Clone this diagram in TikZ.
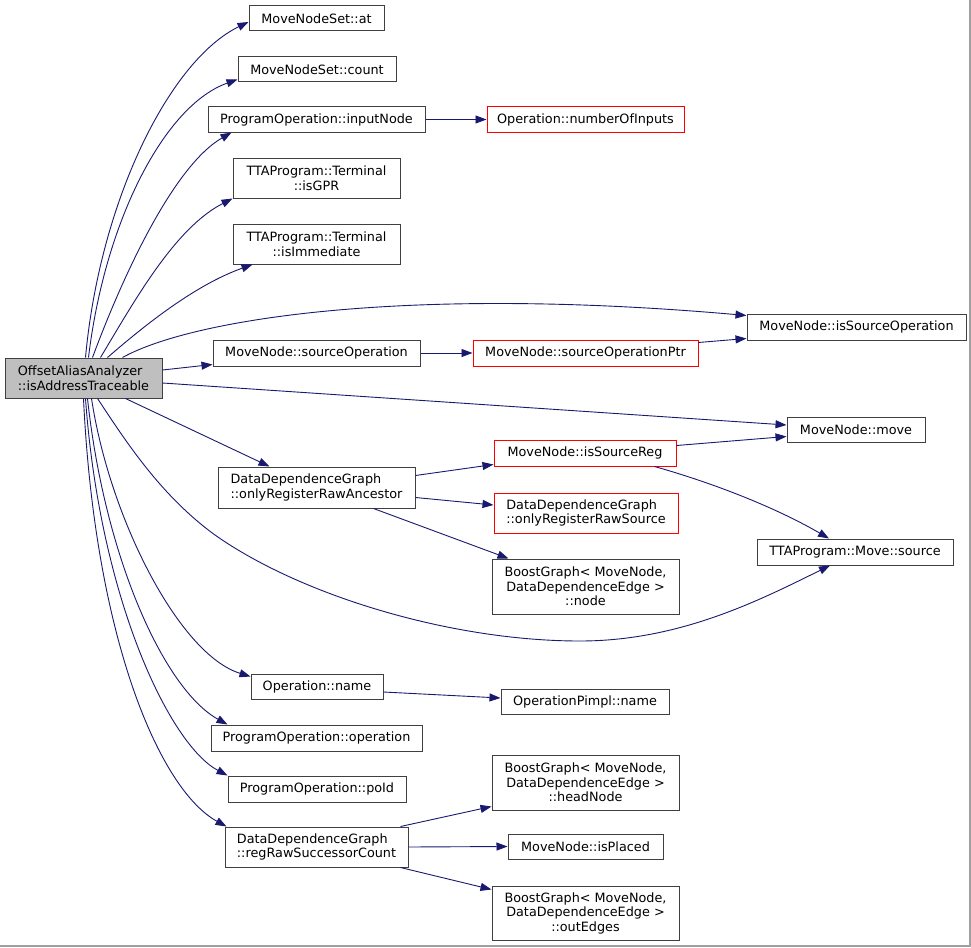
\documentclass[tikz,border=0pt]{standalone}
\usepackage{fontspec}
\setmainfont{DejaVu Sans}
\usetikzlibrary{arrows.meta}
\definecolor{edgecol}{HTML}{191970}
\definecolor{boxcol}{HTML}{404040}
\definecolor{maingray}{HTML}{BFBFBF}
\definecolor{framecol}{HTML}{A0A0A0}
\definecolor{redcol}{HTML}{FF0000}
\begin{document}
\begin{tikzpicture}[x=1pt,y=-1pt,
 box/.style={draw=boxcol, line width=1pt, inner sep=0pt, font=\fontsize{12.8pt}{14.5pt}\selectfont, align=center, fill=white},
 redbox/.style={box, draw=redcol},
 lbox/.style={box, align=left},
 redlbox/.style={redbox, align=left},
 conn/.style={draw=edgecol, line width=0.9pt, -{Triangle[length=11pt,width=8pt]}},
]
\useasboundingbox (0,0) rectangle (971,947);
\fill[white] (0,0) rectangle (971,947);
\draw[framecol, line width=1.5pt] (970,0) -- (970,946) -- (0,946);

% nodes
\node[lbox, fill=maingray, minimum width=157pt, minimum height=40pt] (main) at (83.5,378) {OffsetAliasAnalyzer\\::isAddressTraceable};
\node[box, minimum width=135pt, minimum height=25pt] (at) at (316.5,18.5) {MoveNodeSet::at};
\node[box, minimum width=158pt, minimum height=25pt] (count) at (317,69.5) {MoveNodeSet::count};
\node[box, minimum width=217pt, minimum height=25pt] (in) at (316.5,119.5) {ProgramOperation::inputNode};
\node[box, minimum width=167pt, minimum height=40pt] (gpr) at (316.5,178) {TTAProgram::Terminal\\::isGPR};
\node[box, minimum width=167pt, minimum height=40pt] (imm) at (316.5,244) {TTAProgram::Terminal\\::isImmediate};
\node[redbox, minimum width=197pt, minimum height=25pt] (noi) at (585.5,119.5) {Operation::numberOfInputs};
\node[box, minimum width=219pt, minimum height=26pt] (iso) at (856.5,327) {MoveNode::isSourceOperation};
\node[box, minimum width=207pt, minimum height=26pt] (so) at (316.5,353) {MoveNode::sourceOperation};
\node[redbox, minimum width=225pt, minimum height=26pt] (sop) at (585.5,353) {MoveNode::sourceOperationPtr};
\node[box, minimum width=138pt, minimum height=25pt] (move) at (856,429.5) {MoveNode::move};
\node[redbox, minimum width=182pt, minimum height=26pt] (isr) at (585,453) {MoveNode::isSourceReg};
\node[lbox, minimum width=197pt, minimum height=41pt] (anc) at (316.5,487.5) {DataDependenceGraph\\::onlyRegisterRawAncestor};
\node[redlbox, minimum width=184pt, minimum height=40pt] (ors) at (586,513) {DataDependenceGraph\\::onlyRegisterRawSource};
\node[box, minimum width=187pt, minimum height=55pt] (bnode) at (585.5,586.5) {BoostGraph< MoveNode,\\DataDependenceEdge >\\::node};
\node[box, minimum width=196pt, minimum height=26pt] (msrc) at (855,552) {TTAProgram::Move::source};
\node[box, minimum width=132pt, minimum height=25pt] (opname) at (317,686.5) {Operation::name};
\node[box, minimum width=168pt, minimum height=25pt] (pimpl) at (585,701.5) {OperationPimpl::name};
\node[box, minimum width=211pt, minimum height=26pt] (op) at (316.5,738) {ProgramOperation::operation};
\node[box, minimum width=178pt, minimum height=26pt] (poid) at (317,789) {ProgramOperation::poId};
\node[lbox, minimum width=183pt, minimum height=40pt] (rr) at (316.5,847) {DataDependenceGraph\\::regRawSuccessorCount};
\node[box, minimum width=187pt, minimum height=55pt] (head) at (585.5,782.5) {BoostGraph< MoveNode,\\DataDependenceEdge >\\::headNode};
\node[box, minimum width=155pt, minimum height=25pt] (placed) at (585.5,846.5) {MoveNode::isPlaced};
\node[box, minimum width=187pt, minimum height=54pt] (out) at (585.5,913) {BoostGraph< MoveNode,\\DataDependenceEdge >\\::outEdges};

% edges from main, upward
\draw[conn] ([xshift=81pt]main.north west) .. controls (100,200) and (170,60) .. ([yshift=-3.5pt]at.west);
\draw[conn] ([xshift=84pt]main.north west) .. controls (105,220) and (165,105) .. ([yshift=3pt]count.south west);
\draw[conn] ([xshift=88pt]main.north west) .. controls (125,270) and (175,165) .. ([xshift=24pt]in.south west);
\draw[conn] ([xshift=96pt]main.north west) .. controls (135,300) and (175,228) .. (gpr.south west);
\draw[conn] ([xshift=103pt]main.north west) .. controls (145,325) and (195,285) .. ([xshift=20pt]imm.south west);
\draw[conn] ([xshift=118pt]main.north west) .. controls (190,320) and (400,285) .. ([yshift=-2pt]iso.north west);
% straight ones
\draw[conn] ([yshift=8pt]main.east) -- ([yshift=2pt]so.south west);
\draw[conn] ([yshift=-5pt]main.east) -- ([yshift=4.5pt]move.west);
\draw[conn] ([xshift=121pt]main.south west) -- ([xshift=52pt]anc.north west);
% downward curves
\draw[conn] ([xshift=93pt]main.south west) .. controls (125,440) and (160,495) .. (215,535) .. controls (300,595) and (450,641) .. (580,641) .. controls (680,641) and (760,600) .. ([xshift=-25pt]msrc.south);
\draw[conn] ([xshift=87pt]main.south west) .. controls (110,520) and (180,655) .. ([yshift=-3pt]opname.north west);
\draw[conn] ([xshift=83pt]main.south west) .. controls (105,560) and (165,690) .. ([xshift=17pt]op.north west);
\draw[conn] ([xshift=81pt]main.south west) .. controls (100,600) and (170,745) .. (poid.north west);
\draw[conn] ([xshift=79pt]main.south west) .. controls (95,640) and (160,790) .. ([xshift=2pt]rr.north west);

% other edges
\draw[conn] (in.east) -- (noi.west);
\draw[conn] (so.east) -- (sop.west);
\draw[conn] ([yshift=-3pt]sop.north east) -- ([yshift=2pt]iso.south west);
\draw[conn] ([yshift=-6pt]isr.north east) -- ([yshift=6pt]move.south west);
\draw[conn] ([xshift=-22pt]isr.south east) .. controls (720,485) and (780,510) .. ([xshift=-26pt]msrc.north);
\draw[conn] ([yshift=-9pt]anc.north east) -- ([yshift=2pt]isr.south west);
\draw[conn] ([yshift=11pt]anc.south east) -- ([yshift=8pt]ors.west);
\draw[conn] ([xshift=-42pt]anc.south east) -- ([xshift=17pt]bnode.north west);
\draw[conn] ([yshift=-5.5pt]opname.east) -- ([yshift=3.5pt]pimpl.west);
\draw[conn] ([xshift=-8pt]rr.north east) -- ([yshift=4pt]head.south west);
\draw[conn] (rr.east) -- (placed.west);
\draw[conn] ([xshift=-8pt]rr.south east) -- ([yshift=-4pt]out.north west);
\end{tikzpicture}
\end{document}
